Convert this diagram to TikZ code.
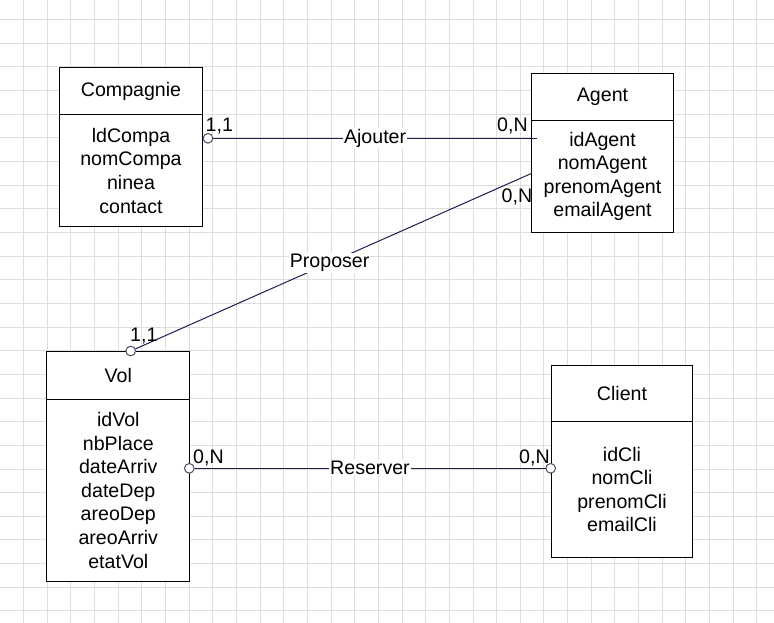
\documentclass[tikz,border=0pt]{standalone}
\usepackage{fontspec}
\setmainfont{Liberation Sans}
\definecolor{gridc}{HTML}{DEDEDE}
\definecolor{linkc}{HTML}{1E1E4E}
\definecolor{circc}{HTML}{50506A}
\begin{document}
\begin{tikzpicture}[x=1pt,y=-1pt,
  every node/.style={font=\fontsize{19.6}{23.6}\selectfont},
  ent/.style={draw=black, line width=1pt, fill=white, inner sep=0pt, anchor=north west, align=center},
  conn/.style={draw=linkc, line width=1pt},
  endpt/.style={circle, draw=circc, fill=white, line width=0.9pt, minimum size=9.5pt, inner sep=0pt},
  card/.style={inner sep=0pt, anchor=base west},
  rel/.style={fill=white, inner sep=1pt}
]
% page and background grid
\fill[white] (0,0) rectangle (774,623);
\useasboundingbox (0,0) rectangle (774,623);
\foreach \i in {1,...,32} \draw[gridc, line width=1pt] (23.65*\i,0) -- (23.65*\i,623);
\foreach \j in {1,...,26} \draw[gridc, line width=1pt] (0,23.65*\j-4) -- (774,23.65*\j-4);

% entities: header + attribute body
\node[ent, minimum width=142.4pt, minimum height=47pt] (compH) at (59.3,67.3) {Compagnie};
\node[ent, minimum width=142.4pt, minimum height=111.7pt] (compB) at (59.3,114.3) {ldCompa\\nomCompa\\ninea\\contact};

\node[ent, minimum width=142.6pt, minimum height=47pt] (agH) at (530.7,72.7) {Agent};
\node[ent, minimum width=142.6pt, minimum height=112.6pt] (agB) at (530.7,119.7) {idAgent\\nomAgent\\prenomAgent\\emailAgent};

\node[ent, minimum width=143pt, minimum height=48pt] (volH) at (46.3,350.7) {Vol};
\node[ent, minimum width=143pt, minimum height=182pt] (volB) at (46.3,398.7) {idVol\\nbPlace\\dateArriv\\dateDep\\areoDep\\areoArriv\\etatVol};

\node[ent, minimum width=141.6pt, minimum height=56.3pt] (cliH) at (550.7,364.7) {Client};
\node[ent, minimum width=141.6pt, minimum height=136pt] (cliB) at (550.7,421) {idCli\\nomCli\\prenomCli\\emailCli};

% association end points
\node[endpt] (ajC) at (208,138.3) {};
\coordinate (ajA) at (537,138.3);
\node[endpt] (prV) at (130.7,351) {};
\coordinate (prA) at (531.7,173.3);
\node[endpt] (reV) at (189.3,468.3) {};
\node[endpt] (reC) at (550.7,468.3) {};

% associations
\draw[conn] (ajC) -- node[rel] {Ajouter} (ajA);
\draw[conn] (prV) -- node[rel, pos=0.49] {Proposer} (prA);
\draw[conn] (reV) -- node[rel] {Reserver} (reC);
\node[endpt] at (ajC) {};
\node[endpt] at (prV) {};
\node[endpt] at (reV) {};
\node[endpt] at (reC) {};

% cardinalities
\node[card] (k1) at (205.5,132) {1,1};
\node[card] (k2) at (497,132) {0,N};
\node[card] (k3) at (130,341) {1,1};
\node[card] (k4) at (501.5,203) {0,N};
\node[card] (k5) at (193,463) {0,N};
\node[card] (k6) at (519,463) {0,N};
\end{tikzpicture}
\end{document}
